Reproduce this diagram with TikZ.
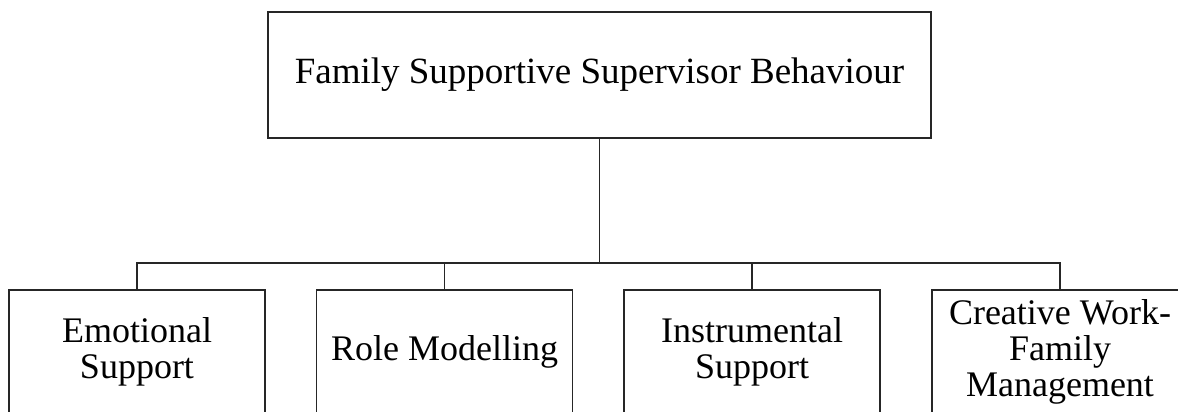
\documentclass[tikz,border=0pt]{standalone}
\usepackage{fontspec}
\setmainfont{Liberation Serif}
\begin{document}
\begin{tikzpicture}[x=1pt,y=-1pt,
  topbox/.style={draw=black!85, line width=1.4pt, minimum width=663pt, minimum height=126pt,
    align=center, inner sep=0pt, font=\fontsize{37}{37}\selectfont},
  subbox/.style={draw=black!85, line width=1.4pt, minimum width=256pt, minimum height=124pt,
    align=center, inner sep=0pt, font=\fontsize{36}{36}\selectfont},
  link/.style={line width=1.4pt, draw=black!85}]
  \useasboundingbox (0,0) rectangle (1178,412);
  \fill[white] (0,0) rectangle (1178,412);
  \clip (0,0) rectangle (1178,412);
  % root node
  \node[topbox] (root) at (599.5,75) {Family Supportive Supervisor Behaviour};
  % four dimensions
  \node[subbox] (es) at (137,352) {Emotional\\Support};
  \node[subbox] (rm) at (444.5,352) {Role Modelling};
  \node[subbox] (is) at (752,352) {Instrumental\\Support};
  \node[subbox] (cw) at (1060,352) {Creative Work-\\Family\\Management};
  % branching connectors
  \coordinate (join) at (599.5,263);
  \draw[link] (root.south) -- (join);
  \foreach \n in {es,rm,is,cw} \draw[link] (join) -| (\n.north);
\end{tikzpicture}
\end{document}
